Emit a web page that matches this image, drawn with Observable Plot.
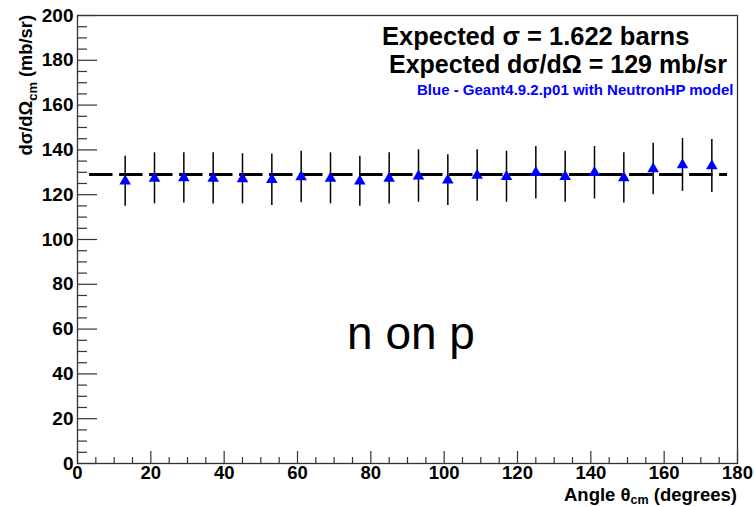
<!DOCTYPE html>
<html>
<head>
<meta charset="utf-8">
<script src="https://cdn.jsdelivr.net/npm/d3@7"></script>
<script src="https://cdn.jsdelivr.net/npm/@observablehq/plot@0.6"></script>
<style>
  html, body { margin: 0; padding: 0; background: #fff; }
  #chart svg { display: block; }
</style>
</head>
<body>
<div id="chart"></div>
<script>
// Centre-of-mass angle bins (degrees)
const angles = [13, 21, 29, 37, 45, 53, 61, 69, 77, 85, 93, 101, 109, 117, 125, 133, 141, 149, 157, 165, 173];
// Simulated differential cross section dσ/dΩ (mb/sr), Geant4.9.2.p01 + NeutronHP
const xsec = [126.0, 127.3, 127.5, 127.3, 127.1, 126.7, 127.9, 127.3, 126.0, 127.3, 128.3,
              126.5, 128.6, 128.0, 129.8, 128.0, 129.8, 127.5, 131.5, 133.3, 132.8];
// Statistical uncertainties (mb/sr)
const xsecErr = [11.2, 11.4, 11.2, 11.4, 11.2, 11.5, 11.5, 11.4, 11.2, 11.4, 11.7,
                 11.3, 11.5, 11.4, 11.7, 11.4, 11.7, 11.2, 11.5, 11.8, 11.8];

// Expected values
const expectedSigma = 1.622;   // barns
const expectedDsdo = 129;      // mb/sr
const expectedRange = [3.3, 177.3]; // angular span of the reference line

// Axis tick values
const xTicks = [0, 20, 40, 60, 80, 100, 120, 140, 160, 180];
const yTicks = [0, 20, 40, 60, 80, 100, 120, 140, 160, 180, 200];
const xMinor = d3.range(0, 181, 5).filter(v => v % 20 !== 0);
const yMinor = d3.range(0, 201, 5).filter(v => v % 20 !== 0);

const points = angles.map((a, i) => ({angle: a, value: xsec[i], err: xsecErr[i]}));

const W = 754, H = 507;
const mL = 77, mR = 17, mT = 15, mB = 44;
const plotW = W - mL - mR;
const plotH = H - mT - mB;
const font = "'Liberation Sans', Arial, Helvetica, sans-serif";

const chart = Plot.plot({
  width: W,
  height: H,
  marginLeft: mL,
  marginRight: mR,
  marginTop: mT,
  marginBottom: mB,
  style: {fontFamily: font, background: "#fff", color: "#000"},
  x: {domain: [0, 180], label: null},
  y: {domain: [0, 200], label: null},
  marks: [
    Plot.frame({stroke: "#333", strokeWidth: 1.3}),
    // inward ticks
    Plot.ruleY(yMinor, {insetRight: plotW - 10, stroke: "#333", strokeWidth: 1.2}),
    Plot.ruleY(yTicks, {insetRight: plotW - 20, stroke: "#333", strokeWidth: 1.2}),
    Plot.ruleX(xMinor, {insetTop: plotH - 6, stroke: "#333", strokeWidth: 1.2}),
    Plot.ruleX(xTicks, {insetTop: plotH - 12, stroke: "#333", strokeWidth: 1.2}),
    Plot.axisX({ticks: xTicks, tickSize: 0, tickPadding: 2, fontSize: 18.5, fontWeight: "bold", label: null}),
    Plot.axisY({ticks: yTicks, tickSize: 0, tickPadding: 4, fontSize: 19, fontWeight: "bold", label: null}),
    // expected dσ/dΩ
    Plot.ruleY([expectedDsdo], {x1: expectedRange[0], x2: expectedRange[1], stroke: "#000",
      strokeWidth: 3, strokeDasharray: "23.4,6.6"}),
    // error bars and points
    Plot.ruleX(points, {x: "angle", y1: d => d.value - d.err, y2: d => d.value + d.err,
      stroke: "#000", strokeWidth: 1.5}),
    Plot.dot(points, {x: "angle", y: "value", symbol: "triangle", r: 4.3, fill: "#0000ff", stroke: null})
  ]
});

document.getElementById("chart").appendChild(chart);

// Axis titles and annotations
const svg = d3.select(chart);

const yl = svg.append("text")
  .attr("transform", "translate(32,15) rotate(-90)")
  .attr("text-anchor", "end")
  .attr("font-family", font).attr("font-weight", "bold").attr("font-size", 18.3).attr("fill", "#000");
yl.append("tspan").text("dσ/dΩ");
yl.append("tspan").attr("font-size", 13).attr("dy", 5).text("cm");
yl.append("tspan").attr("dy", -5).text(" (mb/sr)");

const xl = svg.append("text")
  .attr("x", 737).attr("y", 501)
  .attr("text-anchor", "end")
  .attr("font-family", font).attr("font-weight", "bold").attr("font-size", 18.5).attr("fill", "#000");
xl.append("tspan").text("Angle θ");
xl.append("tspan").attr("font-size", 12.5).attr("dy", 3).text("cm");
xl.append("tspan").attr("dy", -3).text(" (degrees)");

svg.append("text")
  .attr("x", 382).attr("y", 45)
  .attr("text-anchor", "start")
  .attr("font-family", font).attr("font-weight", "bold").attr("font-size", 25.5).attr("fill", "#000")
  .text(`Expected σ = ${expectedSigma} barns`);

svg.append("text")
  .attr("x", 389).attr("y", 73)
  .attr("text-anchor", "start")
  .attr("font-family", font).attr("font-weight", "bold").attr("font-size", 25).attr("fill", "#000")
  .text(`Expected dσ/dΩ = ${expectedDsdo} mb/sr`);

svg.append("text")
  .attr("x", 417).attr("y", 95)
  .attr("text-anchor", "start")
  .attr("font-family", font).attr("font-weight", "bold").attr("font-size", 15).attr("fill", "#0000ff")
  .text("Blue - Geant4.9.2.p01 with NeutronHP model");

svg.append("text")
  .attr("x", 411).attr("y", 349)
  .attr("text-anchor", "middle")
  .attr("font-family", font).attr("font-size", 46).attr("fill", "#000")
  .text("n on p");
</script>
</body>
</html>
